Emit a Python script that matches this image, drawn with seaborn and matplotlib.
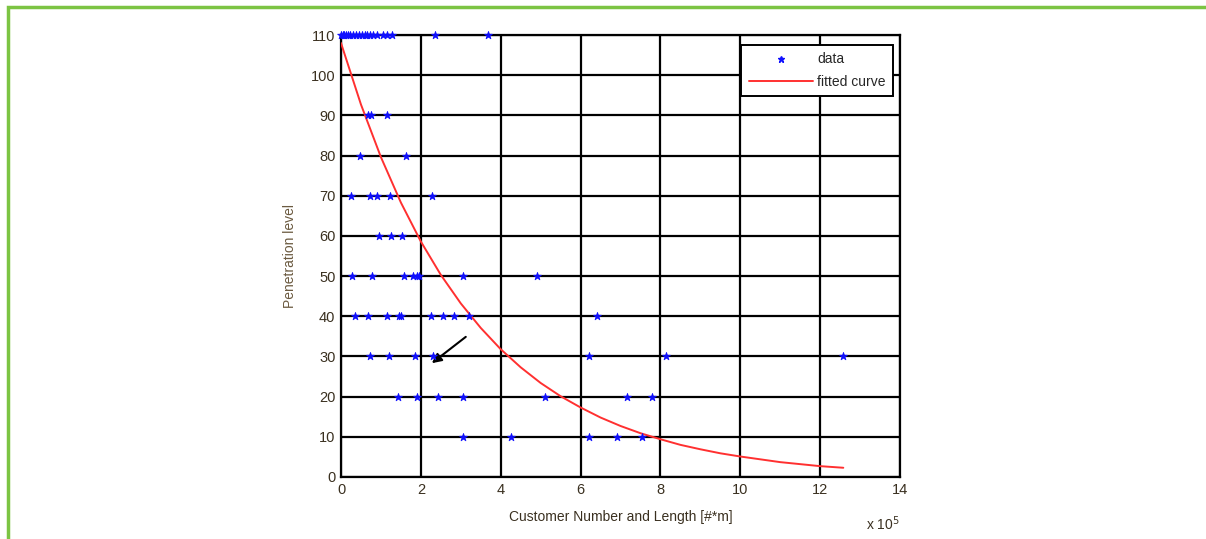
import matplotlib
matplotlib.use("Agg")
import matplotlib.pyplot as plt
import seaborn as sns
import pandas as pd
from matplotlib.lines import Line2D
from matplotlib.patches import Rectangle

# ---- data (x in units of 1e5 #*m) ----
x110 = [0.0, 0.04, 0.08, 0.12, 0.17, 0.22, 0.3, 0.38, 0.45, 0.52, 0.6, 0.65, 0.72, 0.8, 0.9, 1.05, 1.15, 1.27, 2.35, 3.67]
x90 = [0.68, 0.75, 1.15]
x80 = [0.48, 1.62]
x70 = [0.25, 0.72, 0.9, 1.22, 2.27]
x60 = [0.95, 1.25, 1.52]
x50 = [0.27, 0.77, 1.57, 1.8, 1.9, 1.95, 3.05, 4.9]
x40 = [0.35, 0.68, 1.15, 1.45, 1.5, 2.25, 2.55, 2.83, 3.2, 6.42]
x30 = [0.72, 1.2, 1.85, 2.3, 6.22, 8.15, 12.58]
x20 = [1.42, 1.9, 2.42, 3.05, 5.12, 7.17, 7.78]
x10 = [3.05, 4.27, 6.22, 6.92, 7.55]
levels = [110, 90, 80, 70, 60, 50, 40, 30, 20, 10]

fit_x = [0, 0.5, 1, 1.5, 2, 2.5, 3, 3.5, 4, 4.5, 5, 5.5, 6, 6.5, 7, 7.5, 8,
         8.5, 9, 9.5, 10, 10.5, 11, 11.5, 12, 12.58]
fit_y = [108, 92.7, 79.6, 68.3, 58.6, 50.3, 43.2, 37.1, 31.8, 27.3, 23.4, 20.1,
         17.3, 14.8, 12.7, 10.9, 9.4, 8.0, 6.9, 5.9, 5.1, 4.4, 3.7, 3.2, 2.7, 2.3]

xticks = [0, 2, 4, 6, 8, 10, 12, 14]
yticks = [0, 10, 20, 30, 40, 50, 60, 70, 80, 90, 100, 110]

rows = []
for lvl, xs in zip(levels, [x110, x90, x80, x70, x60, x50, x40, x30, x20, x10]):
    for v in xs:
        rows.append({"x": v, "y": lvl})
df = pd.DataFrame(rows)
fit = pd.DataFrame({"x": fit_x, "y": fit_y})

sns.set_theme(style="white")
plt.rcParams["font.family"] = ["Liberation Sans", "DejaVu Sans"]

fig = plt.figure(figsize=(12.06, 5.39), dpi=100)
ax = fig.add_axes([341 / 1206, 1 - 477 / 539, (900 - 341) / 1206, (477 - 35) / 539])

# green frame of the page
fig.add_artist(Rectangle((8 / 1206, -0.1), 1.2, 1 - 7 / 539 + 0.1, transform=fig.transFigure,
                         fill=False, edgecolor="#7cc443", linewidth=2.5, clip_on=False))

sns.lineplot(data=fit, x="x", y="y", ax=ax, color="#ff3030", linewidth=1.4, zorder=3)
sns.scatterplot(data=df, x="x", y="y", ax=ax, marker="*", color="#1010ff", s=34,
                edgecolor="#1010ff", linewidth=0.6, zorder=4, clip_on=False)

ax.set_xlim(0, 14)
ax.set_ylim(0, 110)
ax.set_xticks(xticks)
ax.set_yticks(yticks)
ax.set_xticklabels([str(t) for t in xticks])
ax.set_yticklabels([str(t) for t in yticks])
ax.grid(True, color="black", linewidth=1.6)
ax.set_axisbelow(True)
for s in ax.spines.values():
    s.set_color("black")
    s.set_linewidth(1.6)
    s.set_visible(True)
ax.tick_params(axis="both", labelsize=10.5, colors="#3a3020", length=0, pad=4)

ax.set_xlabel("Customer Number and Length [#*m]", fontsize=10, color="#3a3020", labelpad=10)
ax.set_ylabel("Penetration level", fontsize=10, color="#6b5a40", labelpad=10)
ax.text(1.0, -0.085, "x 10$^5$", transform=ax.transAxes, ha="right", va="top",
        fontsize=10, color="#3a3020")

handles = [Line2D([0], [0], marker="*", color="#1010ff", linestyle="none", markersize=5),
           Line2D([0], [0], color="#ff3030", linewidth=1.4)]
leg = ax.legend(handles, ["data", "fitted curve"], loc="upper right",
                bbox_to_anchor=(0.988, 0.978), fontsize=10, frameon=True,
                fancybox=False, handlelength=4.6, handletextpad=0.3,
                borderpad=0.55, labelspacing=0.6, borderaxespad=0)
leg.get_frame().set_edgecolor("black")
leg.get_frame().set_linewidth(1.4)
leg.get_frame().set_alpha(1)

ax.annotate("", xy=(2.22, 27.9), xytext=(3.18, 35.3),
            arrowprops=dict(arrowstyle="-|>", color="black", lw=1.5, mutation_scale=14))

fig.savefig("out.png", dpi=100)
